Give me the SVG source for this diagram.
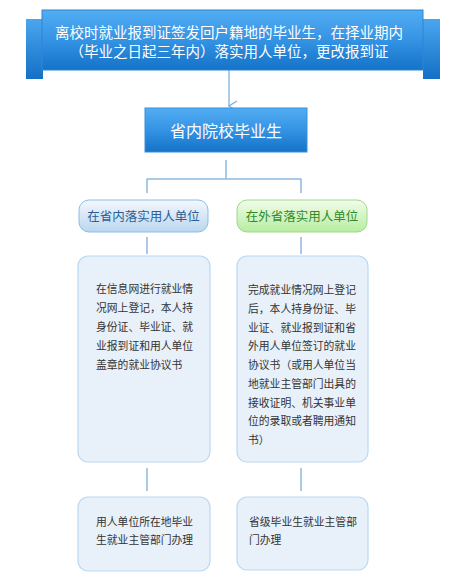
<svg xmlns="http://www.w3.org/2000/svg" width="463" height="586" viewBox="0 0 463 586">
<defs>
<linearGradient id="gMain" x1="0" y1="0" x2="0" y2="1">
<stop offset="0" stop-color="#52adf2"/>
<stop offset="0.5" stop-color="#3593e4"/>
<stop offset="1" stop-color="#1472c8"/>
</linearGradient>
<linearGradient id="gTab" x1="0" y1="0" x2="0" y2="1">
<stop offset="0" stop-color="#4aa6ee"/>
<stop offset="1" stop-color="#1370c6"/>
</linearGradient>
<linearGradient id="gBlue" x1="0" y1="0" x2="0" y2="1">
<stop offset="0" stop-color="#f4f8fd"/>
<stop offset="1" stop-color="#bad6f0"/>
</linearGradient>
<linearGradient id="gGreen" x1="0" y1="0" x2="0" y2="1">
<stop offset="0" stop-color="#f2fdea"/>
<stop offset="1" stop-color="#b6eda0"/>
</linearGradient>
<marker id="arr" markerWidth="12" markerHeight="10" refX="6" refY="9" orient="auto" markerUnits="userSpaceOnUse" viewBox="0 0 12 10">
<path d="M1,1 L6,9 L11,1" fill="none" stroke="#7fb0dc" stroke-width="1.3"/>
</marker>
</defs>
<style>
text{font-family:"Noto Sans CJK SC","Noto Sans",sans-serif}
.wt{fill:#ffffff}
.t1{font-size:14.5px}
.t2{font-size:16px}
.pill{font-size:12.5px}
.small{font-size:10.8px;fill:#333333}
.box{fill:#e8f0f9;stroke:#b9d9f2;stroke-width:1.2}
.conn{fill:none;stroke:#8dbbe0;stroke-width:1.5}
</style>
<g id="connectors">
<path class="conn" d="M229,70 V106" marker-end="url(#arr)"/>
<path class="conn" d="M226,160 V179 M147,179 H301 M147,178.5 V193 M301,178.5 V193"/>
<path class="conn" d="M147,237 V254 M301,237 V254"/>
<path class="conn" d="M147,468 V491 M301,468 V491"/>
</g>
<g id="node-top">
<rect x="26" y="19" width="17" height="60" fill="url(#gTab)"/>
<rect x="423" y="19" width="17" height="60" fill="url(#gTab)"/>
<rect x="42" y="10" width="381" height="60" fill="url(#gMain)" stroke="#2a86d8" stroke-width="1"/>
<text class="wt t1" x="229" y="38" text-anchor="middle">离校时就业报到证签发回户籍地的毕业生，在择业期内</text>
<text class="wt t1" x="229" y="57" text-anchor="middle">（毕业之日起三年内）落实用人单位，更改报到证</text>
</g>
<g id="node-province">
<rect x="145" y="108" width="162" height="44" fill="url(#gMain)" stroke="#3a90dc" stroke-width="1"/>
<text class="wt t2" x="226" y="136.5" text-anchor="middle">省内院校毕业生</text>
</g>
<g id="node-inprov">
<rect x="79" y="200" width="129" height="32" rx="10" fill="url(#gBlue)" stroke="#8cbde6" stroke-width="1"/>
<text class="pill" x="143.5" y="221" text-anchor="middle" fill="#2b5e95">在省内落实用人单位</text>
</g>
<g id="node-outprov">
<rect x="237" y="200" width="130" height="32" rx="10" fill="url(#gGreen)" stroke="#9ed88a" stroke-width="1"/>
<text class="pill" x="302" y="221" text-anchor="middle" fill="#2f8a2a">在外省落实用人单位</text>
</g>
<g id="node-left-desc">
<rect class="box" x="78" y="256" width="132" height="206" rx="10"/>
<text class="small" x="96" y="293">在信息网进行就业情</text>
<text class="small" x="96" y="312">况网上登记，本人持</text>
<text class="small" x="96" y="331">身份证、毕业证、就</text>
<text class="small" x="96" y="350">业报到证和用人单位</text>
<text class="small" x="96" y="369">盖章的就业协议书</text>
</g>
<g id="node-right-desc">
<rect class="box" x="237" y="256" width="131" height="206" rx="10"/>
<text class="small" x="248" y="294">完成就业情况网上登记</text>
<text class="small" x="248" y="312.8">后，本人持身份证、毕</text>
<text class="small" x="248" y="331.5">业证、就业报到证和省</text>
<text class="small" x="248" y="350.3">外用人单位签订的就业</text>
<text class="small" x="248" y="369">协议书（或用人单位当</text>
<text class="small" x="248" y="387.8">地就业主管部门出具的</text>
<text class="small" x="248" y="406.5">接收证明、机关事业单</text>
<text class="small" x="248" y="425.3">位的录取或者聘用通知</text>
<text class="small" x="248" y="444">书）</text>
</g>
<g id="node-left-office">
<rect class="box" x="78" y="497" width="132" height="74" rx="10"/>
<text class="small" x="96" y="526">用人单位所在地毕业</text>
<text class="small" x="96" y="544">生就业主管部门办理</text>
</g>
<g id="node-right-office">
<rect class="box" x="237" y="497" width="131" height="73" rx="10"/>
<text class="small" x="249" y="526">省级毕业生就业主管部</text>
<text class="small" x="249" y="544">门办理</text>
</g>
</svg>
